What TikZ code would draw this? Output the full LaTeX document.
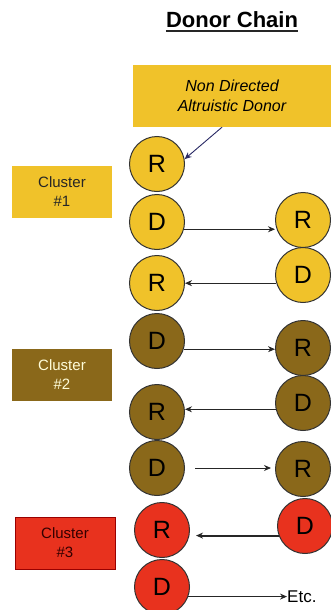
\documentclass[tikz,border=0pt]{standalone}
\usepackage{fontspec}
\setmainfont{Liberation Sans}
\usetikzlibrary{arrows.meta}
\definecolor{cyel}{RGB}{240,194,42}
\definecolor{cbrn}{RGB}{138,104,26}
\definecolor{cred}{RGB}{232,50,30}
\definecolor{cnavy}{RGB}{40,40,100}
\begin{document}
\begin{tikzpicture}[x=1pt,y=-1pt,
  disc/.style={circle,draw=black!80,line width=1pt,minimum size=55pt,inner sep=0pt,
    font=\fontsize{25}{25}\selectfont},
  ybox/.style={fill=cyel,draw=none,inner sep=0pt},
  lbl/.style={inner sep=0pt,minimum width=100pt,minimum height=52pt,align=center,
    font=\fontsize{15}{19}\selectfont},
  arr/.style={draw=black!85,line width=0.9pt,-{Stealth[length=7pt,width=6pt]}}]
\useasboundingbox (0,0) rectangle (331,610);
\clip (0,0) rectangle (331,610);
% title
\node[font=\fontsize{22}{22}\selectfont\bfseries,inner sep=0pt] (title) at (232,20) {Donor Chain};
\draw[line width=1.6pt,black!85] ([yshift=-3pt]title.base west) -- ([yshift=-3pt]title.base east);
% NDAD box
\node[ybox,minimum width=198pt,minimum height=62pt,align=center,
  font=\fontsize{16}{20}\selectfont\itshape] (nd) at (232,96) {Non Directed\\Altruistic Donor};
% cluster labels
\node[lbl,fill=cyel,text=black!85] (c1) at (62,192) {Cluster\\\#1};
\node[lbl,fill=cbrn,text=white!85!yellow] (c2) at (62,375) {Cluster\\\#2};
\node[lbl,fill=cred,draw=red!60!black,line width=0.6pt,text=black!80!red] (c3) at (65,543) {Cluster\\\#3};
% left column
\node[disc,fill=cyel] (R1) at (157,164) {R};
\node[disc,fill=cyel] (D1) at (157,222) {D};
\node[disc,fill=cyel] (R2) at (157,283) {R};
\node[disc,fill=cbrn] (D2) at (157,341) {D};
\node[disc,fill=cbrn] (R3) at (157,412) {R};
\node[disc,fill=cbrn] (D3) at (157,468) {D};
\node[disc,fill=cred] (R4) at (162,530) {R};
\node[disc,fill=cred] (D4) at (162,587) {D};
% right column
\node[disc,fill=cyel] (Rr1) at (303,220) {R};
\node[disc,fill=cyel] (Dr1) at (303,275) {D};
\node[disc,fill=cbrn] (Rr2) at (303,348) {R};
\node[disc,fill=cbrn] (Dr2) at (303,403) {D};
\node[disc,fill=cbrn] (Rr3) at (303,469) {R};
\node[disc,fill=cred] (Dr3) at (305,526) {D};
% etc
\node[anchor=west,inner sep=0pt,font=\fontsize{17}{17}\selectfont] (etc) at (287,597) {Etc.};
% arrows
\draw[arr,draw=cnavy,line width=0.9pt] ([xshift=-10pt]nd.south) -- (R1.10);
\draw[arr] (D1.-15) -- (D1.-15 -| Rr1.west);
\draw[arr] (Dr1.197) -- (Dr1.197 -| R2.east);
\draw[arr] (D2.-17) -- (D2.-17 -| Rr2.west);
\draw[arr] (Dr2.193) -- (Dr2.193 -| R3.east);
\draw[arr,shorten <=10pt,shorten >=4pt] (D3.east) -- (D3.east -| Rr3.west);
\draw[arr,line width=2pt,shorten >=6pt] (Dr3.200) -- (Dr3.200 -| R4.east);
\draw[arr] (D4.-20) -- (D4.-20 -| etc.west);
\end{tikzpicture}
\end{document}
